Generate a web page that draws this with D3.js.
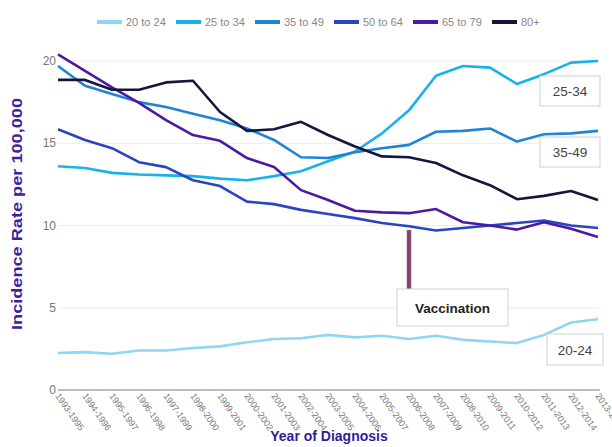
<!DOCTYPE html>
<meta charset="utf-8">
<style>
  body { margin: 0; background: #fff; }
  text { font-family: "Liberation Sans", Arial, sans-serif; }
  .grid line { stroke: #ececec; stroke-width: 1; }
  .tick-y { fill: #777; font-size: 12px; font-family: "Liberation Sans Narrow", "Liberation Sans", sans-serif; }
  .tick-x { fill: #777; font-size: 9px; }
  .legend text { fill: #888; font-size: 11px; font-family: "Liberation Sans Narrow", "Liberation Sans", sans-serif; }
  .series { fill: none; stroke-width: 2.6; stroke-linejoin: round; }
  .note rect { fill: #fff; stroke: #d0d0d0; stroke-width: 1; }
  .note text { fill: #444; font-size: 13.5px; }
</style>
<body>
<div id="chart"></div>
<script src="https://d3js.org/d3.v7.min.js"></script>
<script>

var periods = ["1993-1995", "1994-1996", "1995-1997", "1996-1998", "1997-1999", "1998-2000",
               "1999-2001", "2000-2002", "2001-2003", "2002-2004", "2003-2005", "2004-2006",
               "2005-2007", "2006-2008", "2007-2009", "2008-2010", "2009-2011", "2010-2012",
               "2011-2013", "2012-2014", "2013-2015"];

var groups = ["20 to 24", "25 to 34", "35 to 49", "50 to 64", "65 to 79", "80+"];
var colors = ["#8fd6f4", "#17b2ea", "#1f84d6", "#2b45bf", "#4c1aa0", "#15163e"];

var age20to24 = [2.25, 2.3, 2.2, 2.4, 2.4, 2.55, 2.65, 2.9, 3.1, 3.15, 3.35,
                 3.2, 3.3, 3.1, 3.3, 3.05, 2.95, 2.85, 3.35, 4.1, 4.3];
var age25to34 = [13.6, 13.5, 13.2, 13.1, 13.05, 13.0, 12.85, 12.75, 13.0, 13.3, 13.9,
                 14.5, 15.6, 17.0, 19.1, 19.7, 19.6, 18.6, 19.2, 19.9, 20.0];
var age35to49 = [19.7, 18.5, 18.0, 17.5, 17.2, 16.8, 16.4, 15.9, 15.2, 14.15, 14.1,
                 14.45, 14.7, 14.9, 15.7, 15.75, 15.9, 15.1, 15.55, 15.6, 15.75];
var age50to64 = [15.85, 15.2, 14.7, 13.85, 13.55, 12.75, 12.4, 11.45, 11.3, 10.95, 10.7,
                 10.45, 10.15, 9.95, 9.7, 9.85, 10.0, 10.15, 10.3, 10.0, 9.85];
var age65to79 = [20.4, 19.4, 18.4, 17.45, 16.4, 15.5, 15.15, 14.1, 13.55, 12.15, 11.55,
                 10.9, 10.8, 10.75, 11.0, 10.2, 10.0, 9.75, 10.2, 9.8, 9.3];
var age80plus = [18.85, 18.85, 18.25, 18.25, 18.7, 18.8, 16.9, 15.75, 15.85, 16.3, 15.5,
                 14.8, 14.2, 14.15, 13.8, 13.05, 12.45, 11.6, 11.8, 12.1, 11.55];

var seriesValues = [age20to24, age25to34, age35to49, age50to64, age65to79, age80plus];
var yTicks = [0, 5, 10, 15, 20];

var width = 612, height = 447;

var svg = d3.select("#chart").append("svg")
            .attr("width", width)
            .attr("height", height);

var x = d3.scalePoint().domain(periods).range([58, 598]),
    y = d3.scaleLinear().domain([0, 20]).range([390, 61]);

// gridlines
svg.append("g").attr("class", "grid")
   .selectAll("line")
   .data(yTicks.filter(d => d > 0))
   .enter().append("line")
   .attr("x1", 58).attr("x2", 600)
   .attr("y1", d => y(d)).attr("y2", d => y(d));

// y tick labels
svg.append("g")
   .selectAll("text")
   .data(yTicks)
   .enter().append("text")
   .attr("class", "tick-y")
   .attr("x", 56)
   .attr("y", d => y(d) + 4)
   .attr("text-anchor", "end")
   .text(d => d);

// baseline
svg.append("line")
   .attr("x1", 58).attr("x2", 600)
   .attr("y1", y(0)).attr("y2", y(0))
   .attr("stroke", "#a8a8a8")
   .attr("stroke-width", 1.5);

// x tick labels, rotated (the last one runs off the edge as in the original)
svg.append("g")
   .selectAll("text")
   .data(periods)
   .enter().append("text")
   .attr("class", "tick-x")
   .attr("transform", d => "translate(" + (x(d) - 3) + "," + (y(0) + 6) + ") rotate(55)")
   .text(d => d);

// lines
var line = d3.line()
             .x((d, i) => x(periods[i]))
             .y(d => y(d));

svg.append("g")
   .selectAll("path")
   .data(seriesValues)
   .enter().append("path")
   .attr("class", "series")
   .attr("stroke", (d, i) => colors[i])
   .attr("d", line);

// vaccination marker
var vx = x("2006-2008");
svg.append("rect")
   .attr("x", vx - 2).attr("y", y(9.72))
   .attr("width", 4).attr("height", 289 - y(9.72))
   .attr("fill", "#8b3d6e")
   .attr("stroke", "#7a7a8a")
   .attr("stroke-width", 0.6);

// annotation boxes
var notes = [
  {label: "25-34", x: 540, y: 76, w: 60, h: 30, bold: false},
  {label: "35-49", x: 540, y: 137, w: 60, h: 30, bold: false},
  {label: "Vaccination", x: 397, y: 289, w: 111, h: 37, bold: true},
  {label: "20-24", x: 547, y: 334, w: 56, h: 31, bold: false}
];

var note = svg.append("g").selectAll("g")
              .data(notes)
              .enter().append("g")
              .attr("class", "note");

note.append("rect")
    .attr("x", d => d.x).attr("y", d => d.y)
    .attr("width", d => d.w).attr("height", d => d.h);

note.append("text")
    .attr("x", d => d.x + d.w / 2)
    .attr("y", d => d.y + d.h / 2 + 5)
    .attr("text-anchor", "middle")
    .style("font-weight", d => d.bold ? "bold" : "normal")
    .style("fill", d => d.bold ? "#222" : "#444")
    .text(d => d.label);

// legend
var legend = svg.append("g").attr("class", "legend")
                .selectAll("g")
                .data(groups)
                .enter().append("g")
                .attr("transform", (d, i) => "translate(" + (97 + i * 79) + ",22)");

legend.append("rect")
      .attr("x", 0).attr("y", -2)
      .attr("width", 25).attr("height", 4)
      .attr("fill", (d, i) => colors[i]);

legend.append("text")
      .attr("x", 29).attr("y", 4)
      .text(d => d);

// axis titles
svg.append("text")
   .attr("transform", "translate(22,214) rotate(-90)")
   .attr("text-anchor", "middle")
   .attr("textLength", 232)
   .attr("lengthAdjust", "spacingAndGlyphs")
   .style("font-size", "15px")
   .style("font-weight", "bold")
   .style("fill", "#3b20a0")
   .text("Incidence Rate per 100,000");

svg.append("text")
   .attr("x", 329).attr("y", 441)
   .attr("text-anchor", "middle")
   .style("font-size", "14px")
   .style("font-weight", "bold")
   .style("fill", "#2f1f96")
   .style("font-family", "'Liberation Sans Narrow', 'Liberation Sans', sans-serif")
   .text("Year of Diagnosis");

</script>
</body>
